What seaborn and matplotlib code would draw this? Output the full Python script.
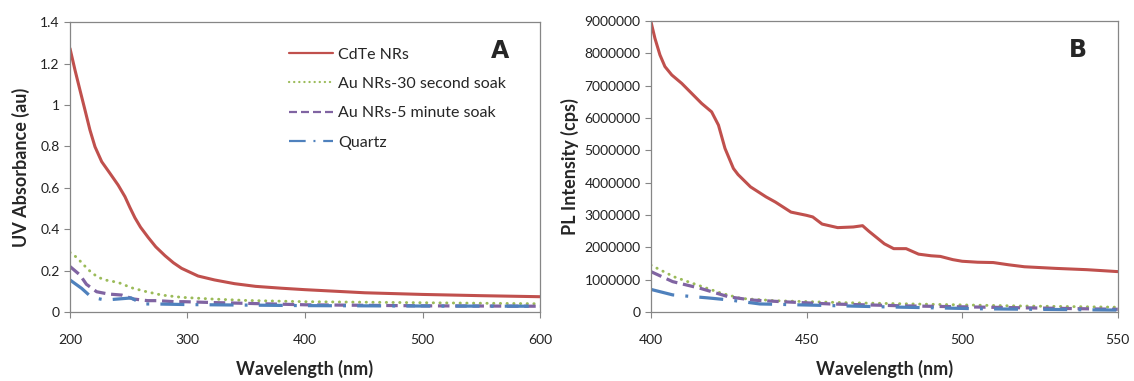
import numpy as np
import pandas as pd
import seaborn as sns
import matplotlib
matplotlib.use("Agg")
import matplotlib.pyplot as plt

# ---------------- Panel A data (UV absorbance) ----------------
uv_cdte_x = [200, 204.3, 208.5, 212.8, 217, 221.3, 227, 234, 241, 246.8, 251, 255.3, 260, 266.6, 273, 280.9,
             288, 295, 309, 323, 340, 358, 380, 400, 451, 500, 550, 600]
uv_cdte_y = [1.273, 1.168, 1.072, 0.975, 0.879, 0.798, 0.726, 0.67, 0.613, 0.557, 0.505, 0.455, 0.41, 0.36,
             0.315, 0.272, 0.238, 0.211, 0.174, 0.155, 0.137, 0.124, 0.115, 0.108, 0.093, 0.085, 0.079, 0.074]

uv_au30_x = [200, 205.7, 210, 214, 218.4, 224, 229.8, 241, 252.5, 263.8, 278, 295, 320.6, 350, 400, 500, 600]
uv_au30_y = [0.288, 0.264, 0.238, 0.214, 0.19, 0.168, 0.155, 0.143, 0.117, 0.1, 0.082, 0.071, 0.063,
             0.056, 0.05, 0.045, 0.04]

uv_au5_x = [200, 208.5, 214, 222.7, 232.6, 244, 254, 266, 274, 289, 297, 320, 400, 500, 600]
uv_au5_y = [0.22, 0.179, 0.134, 0.098, 0.087, 0.082, 0.063, 0.055, 0.055, 0.05, 0.05, 0.046, 0.035, 0.03, 0.028]

uv_qz_x = [200, 210, 218.4, 230, 252, 262, 272, 300, 400, 500, 600]
uv_qz_y = [0.155, 0.114, 0.071, 0.058, 0.068, 0.039, 0.039, 0.036, 0.031, 0.029, 0.028]

# ---------------- Panel B data (PL intensity) ----------------
pl_cdte_x = [400, 401.3, 402.9, 404.5, 406.7, 409.9, 413.1, 416.3, 419.5, 421.7, 423.8, 426.5, 428, 432,
             437, 440, 445, 450, 452, 455, 460, 465, 468, 470, 475, 478, 482, 486, 490, 493, 497, 500,
             505, 510, 515, 520, 530, 540, 550]
pl_cdte_y = [8980000, 8460000, 7950000, 7590000, 7330000, 7070000, 6760000, 6450000, 6190000, 5780000,
             5060000, 4440000, 4250000, 3870000, 3560000, 3400000, 3090000, 2990000, 2940000, 2720000,
             2610000, 2630000, 2670000, 2500000, 2110000, 1960000, 1960000, 1790000, 1740000, 1720000,
             1620000, 1570000, 1540000, 1530000, 1460000, 1400000, 1350000, 1310000, 1250000]

pl_au30_x = [400, 407.4, 415, 422.7, 429, 440, 462, 484, 517, 550]
pl_au30_y = [1450000, 1090000, 835000, 580000, 420000, 350000, 290000, 250000, 190000, 150000]

pl_au5_x = [400, 407, 416, 425, 432.5, 442, 457.6, 481.8, 517, 550]
pl_au5_y = [1250000, 940000, 730000, 470000, 370000, 320000, 250000, 190000, 135000, 85000]

pl_qz_x = [400, 407, 418, 425.5, 435, 440, 473, 506, 550]
pl_qz_y = [700000, 530000, 440000, 370000, 250000, 240000, 165000, 100000, 60000]

series_names = ["CdTe NRs", "Au NRs-30 second soak", "Au NRs-5 minute soak", "Quartz"]
colors = ["#C0504D", "#9BBB59", "#8064A2", "#4F81BD"]

sns.set_style("white")
plt.rcParams["font.family"] = ["Lato", "DejaVu Sans"]

fig = plt.figure(figsize=(11.34, 3.81), dpi=100)
axA = fig.add_axes([0.0617, 0.181, 0.4145, 0.761])
axB = fig.add_axes([0.574, 0.181, 0.4117, 0.764])

styles = [
    dict(linestyle="-", linewidth=2.2),
    dict(linestyle=(0, (0.1, 2.2)), linewidth=2.1, dash_capstyle="round"),
    dict(linestyle=(0, (3.6, 1.8)), linewidth=2.3),
    dict(linestyle=(0, (7.5, 3.5, 0.9, 3.5)), linewidth=2.3),
]

uv = [(uv_cdte_x, uv_cdte_y), (uv_au30_x, uv_au30_y), (uv_au5_x, uv_au5_y), (uv_qz_x, uv_qz_y)]
pl = [(pl_cdte_x, pl_cdte_y), (pl_au30_x, pl_au30_y), (pl_au5_x, pl_au5_y), (pl_qz_x, pl_qz_y)]

for i, (x, y) in enumerate(uv):
    sns.lineplot(x=x, y=y, ax=axA, color=colors[i], label=series_names[i], **styles[i])
for i, (x, y) in enumerate(pl):
    sns.lineplot(x=x, y=y, ax=axB, color=colors[i], legend=False, **styles[i])

spine_col = "#868686"
for ax in (axA, axB):
    for s in ax.spines.values():
        s.set_color(spine_col)
        s.set_linewidth(0.9)
    ax.tick_params(axis="both", direction="out", length=4, width=0.8, color=spine_col,
                   labelsize=10, labelcolor="#222222", bottom=True, left=True)
    ax.tick_params(axis="x", pad=12)

axA.set_xlim(200, 600)
axA.set_ylim(0, 1.4)
axA.set_xticks([200, 300, 400, 500, 600])
yt = [0, 0.2, 0.4, 0.6, 0.8, 1.0, 1.2, 1.4]
axA.set_yticks(yt)
axA.set_yticklabels(["0", "0.2", "0.4", "0.6", "0.8", "1", "1.2", "1.4"])
axA.set_xlabel("Wavelength (nm)", fontsize=13, fontweight="bold", labelpad=10)
axA.set_ylabel("UV Absorbance (au)", fontsize=13, fontweight="bold", labelpad=7)
axA.text(0.915, 0.9, "A", transform=axA.transAxes, fontsize=17, fontweight="bold",
         ha="center", va="center", family="DejaVu Sans")

axB.set_xlim(400, 550)
axB.set_ylim(0, 9000000)
axB.set_xticks([400, 450, 500, 550])
ybt = [0, 1000000, 2000000, 3000000, 4000000, 5000000, 6000000, 7000000, 8000000, 9000000]
axB.set_yticks(ybt)
axB.set_yticklabels([str(v) for v in ybt])
axB.set_xlabel("Wavelength (nm)", fontsize=13, fontweight="bold", labelpad=10)
axB.set_ylabel("PL Intensity (cps)", fontsize=13, fontweight="bold", labelpad=4)
axB.text(0.915, 0.9, "B", transform=axB.transAxes, fontsize=17, fontweight="bold",
         ha="center", va="center", family="DejaVu Sans")

leg = axA.legend(loc="upper left", bbox_to_anchor=(0.45, 0.94), frameon=False, fontsize=11.5,
                 handlelength=2.7, handletextpad=0.35, labelspacing=0.95, borderpad=0)
for h in leg.get_lines():
    h.set_linewidth(1.6)

fig.savefig("out.png", dpi=100)
